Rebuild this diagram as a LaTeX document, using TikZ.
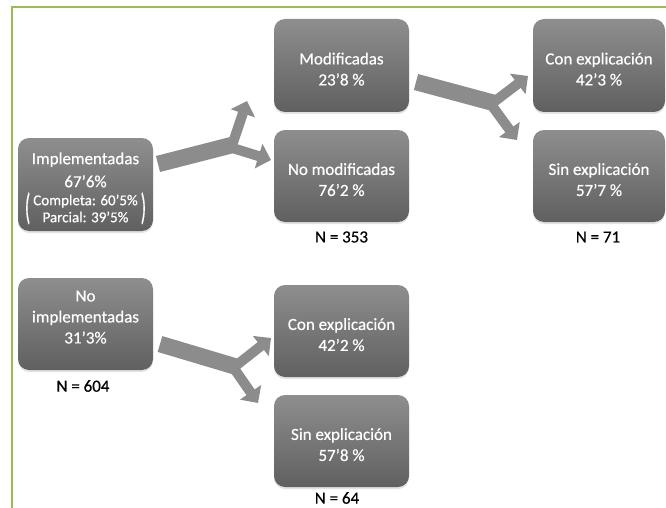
\documentclass[tikz,border=0pt]{standalone}
\usepackage{fontspec}
\setmainfont{Carlito}[FakeBold=0.45]
\usetikzlibrary{arrows.meta,shadows}
\definecolor{frameg}{HTML}{9BBB59}
\definecolor{arrg}{HTML}{8C8C8C}
\definecolor{boxtop}{HTML}{8E8E8E}
\definecolor{boxbot}{HTML}{606060}
\newcommand{\bigparen}[1]{\raisebox{-14pt}{\scalebox{1.05}[2.15]{\fontsize{17}{17}\selectfont #1}}}
\newcommand{\topstrut}{\rule{0pt}{19pt}}
\begin{document}
\begin{tikzpicture}[x=1pt,y=-1pt,
 box/.style={rounded corners=11pt, top color=boxtop, bottom color=boxbot, draw=none,
   minimum width=135pt, minimum height=92pt, text=white, align=center,
   font=\fontsize{17}{21}\selectfont, inner sep=0pt,
   drop shadow={opacity=0.22, shadow xshift=0pt, shadow yshift=-2pt}},
 nlabel/.style={font=\fontsize{17}{20}\selectfont, text=black, inner sep=0pt},
 stemline/.style={draw=arrg, line width=16.5pt},
 branchline/.style={draw=arrg, line width=10pt, -{Triangle[length=13pt,width=25pt]}},
]
\useasboundingbox (0,0) rectangle (666,508);
\fill[white] (0,0) rectangle (666,508);
\draw[frameg, line width=2pt] (12,510) -- (12,7.5) -- (670,7.5);

% boxes
\node[box, minimum height=93pt] (impl) at (85.5,184.5) {\rule{0pt}{22.5pt}Implementadas\\[2pt]67’6\%\\[-3pt]
 \bigparen{(}\hspace{3pt}{\fontsize{15}{17}\selectfont\begin{tabular}[t]{@{}c@{}}Completa: 60’5\%\\Parcial: 39’5\%\end{tabular}}\hspace{3pt}\bigparen{)}};
\node[box] (noimpl) at (85.5,324) {No\\implementadas\\31’3\%\rule[-14pt]{0pt}{14pt}};
\node[box, minimum height=93pt] (mod) at (341.5,65.5) {\topstrut Modificadas\\23’8 \%};
\node[box] (nomod) at (341.5,176) {\topstrut No modificadas\\76’2 \%};
\node[box, minimum height=93pt, minimum width=132pt] (con1) at (599,65.5) {\topstrut Con explicación\\42’3 \%};
\node[box, minimum width=132pt] (sin1) at (599,176) {\topstrut Sin explicación\\57’7 \%};
\node[box] (con2) at (341.5,331) {\topstrut Con explicación\\42’2 \%};
\node[box] (sin2) at (341.5,441) {\topstrut Sin explicación\\57’8 \%};

% N labels
\node[nlabel] (n1) at (341.5,237) {N = 353};
\node[nlabel] (n2) at (598,237) {N = 71};
\node[nlabel] (n3) at (83,386) {N = 604};
\node[nlabel] (n4) at (337,498) {N = 64};

% arrow 1
\coordinate (s1) at (158,164);
\coordinate (j1) at (234,144.5);
\coordinate (u1) at (247,101);
\coordinate (l1) at (271,160);
\draw[stemline] (s1) -- (j1);
\draw[branchline] (j1) ++(-3,4) -- (u1);
\draw[branchline] (j1) ++(-3,3) -- (l1);

% arrow 2
\coordinate (s2) at (416,82);
\coordinate (j2) at (494,103);
\coordinate (u2) at (528,76);
\coordinate (l2) at (517,140);
\draw[stemline] (s2) -- (j2);
\draw[branchline] (j2) ++(-4,2) -- (u2);
\draw[branchline] (j2) ++(-4,0) -- (l2);

% arrow 3
\coordinate (s3) at (160,344);
\coordinate (j3) at (237,367);
\coordinate (u3) at (271,338);
\coordinate (l3) at (258,403);
\draw[stemline] (s3) -- (j3);
\draw[branchline] (j3) ++(-4,1) -- (u3);
\draw[branchline] (j3) ++(-4,0) -- (l3);
\end{tikzpicture}
\end{document}
